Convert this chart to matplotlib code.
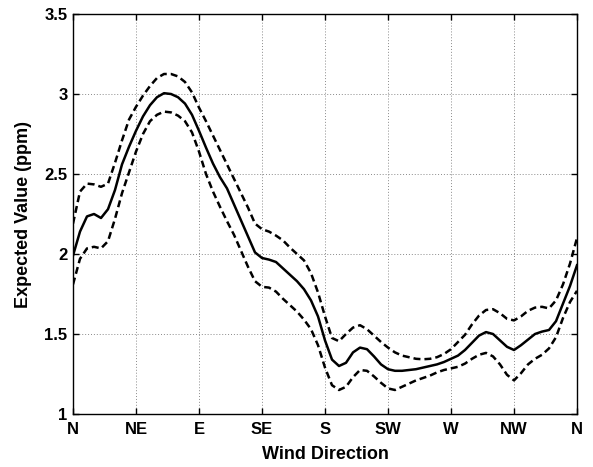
import matplotlib
matplotlib.use("Agg")
import matplotlib.pyplot as plt
import numpy as np

plt.rcParams['font.family'] = ['Liberation Sans', 'DejaVu Sans']

# Wind direction in degrees (0 = N, clockwise)
angles = list(range(0, 365, 5))

expected = [1.99, 2.14, 2.235, 2.25, 2.225, 2.28, 2.40, 2.56, 2.67, 2.77,
            2.86, 2.93, 2.98, 3.005, 3.0, 2.98, 2.94, 2.87, 2.77, 2.665,
            2.565, 2.48, 2.41, 2.31, 2.21, 2.11, 2.01, 1.975, 1.965, 1.95,
            1.91, 1.87, 1.83, 1.78, 1.71, 1.61, 1.46, 1.34, 1.30, 1.32,
            1.385, 1.415, 1.405, 1.36, 1.31, 1.28, 1.27, 1.27, 1.275, 1.28,
            1.29, 1.30, 1.31, 1.325, 1.345, 1.365, 1.40, 1.445, 1.49, 1.512,
            1.50, 1.46, 1.42, 1.40, 1.43, 1.465, 1.50, 1.515, 1.525, 1.58,
            1.69, 1.80, 1.93]

upper = [2.19, 2.39, 2.44, 2.435, 2.42, 2.44, 2.57, 2.71, 2.84, 2.92,
         2.99, 3.05, 3.10, 3.125, 3.125, 3.11, 3.075, 3.01, 2.915, 2.83,
         2.74, 2.65, 2.56, 2.47, 2.38, 2.29, 2.19, 2.155, 2.14, 2.115,
         2.085, 2.04, 2.00, 1.96, 1.88, 1.76, 1.61, 1.475, 1.455, 1.50,
         1.54, 1.555, 1.53, 1.49, 1.45, 1.415, 1.385, 1.365, 1.355, 1.345,
         1.342, 1.345, 1.355, 1.375, 1.405, 1.45, 1.495, 1.56, 1.615, 1.65,
         1.655, 1.63, 1.595, 1.585, 1.61, 1.645, 1.665, 1.67, 1.66, 1.71,
         1.81, 1.94, 2.10]

lower = [1.81, 1.97, 2.035, 2.045, 2.035, 2.08, 2.22, 2.38, 2.51, 2.64,
         2.75, 2.83, 2.87, 2.89, 2.885, 2.865, 2.83, 2.76, 2.64, 2.50,
         2.39, 2.295, 2.205, 2.12, 2.02, 1.92, 1.83, 1.795, 1.79, 1.765,
         1.72, 1.68, 1.64, 1.59, 1.53, 1.43, 1.29, 1.18, 1.15, 1.17,
         1.23, 1.275, 1.27, 1.235, 1.195, 1.16, 1.15, 1.17, 1.19, 1.21,
         1.225, 1.24, 1.26, 1.275, 1.285, 1.295, 1.315, 1.345, 1.37, 1.382,
         1.36, 1.31, 1.245, 1.21, 1.255, 1.31, 1.345, 1.37, 1.41, 1.48,
         1.60, 1.70, 1.77]

xtick_pos = [0, 45, 90, 135, 180, 225, 270, 315, 360]
xtick_labels = ['N', 'NE', 'E', 'SE', 'S', 'SW', 'W', 'NW', 'N']
ytick_pos = [1, 1.5, 2, 2.5, 3, 3.5]
ytick_labels = ['1', '1.5', '2', '2.5', '3', '3.5']

fig = plt.figure(figsize=(5.93, 4.67), dpi=100)
ax = fig.add_axes([73/593, 1 - 414/467, 504/593, 400/467])

ax.plot(angles, expected, color='black', lw=1.8, solid_joinstyle='round')
ax.plot(angles, upper, color='black', lw=1.8, ls=(0, (2.8, 1.6)))
ax.plot(angles, lower, color='black', lw=1.8, ls=(0, (2.8, 1.6)))

ax.set_xlim(0, 360)
ax.set_ylim(1, 3.5)
ax.set_xticks(xtick_pos)
ax.set_xticklabels(xtick_labels)
ax.set_yticks(ytick_pos)
ax.set_yticklabels(ytick_labels)

ax.grid(True, color='#8a8a8a', ls=(0, (1, 2)), lw=0.7)
ax.tick_params(direction='in', length=4, width=1, top=True, right=True,
               labelsize=12, pad=4)
for lab in ax.get_xticklabels() + ax.get_yticklabels():
    lab.set_fontweight('bold')
ax.tick_params(axis='x', pad=6)
for s in ax.spines.values():
    s.set_linewidth(1.0)
    s.set_color('black')

ax.set_xlabel('Wind Direction', fontsize=13, fontweight='bold', labelpad=6)
ax.set_ylabel('Expected Value (ppm)', fontsize=13, fontweight='bold', labelpad=9)

fig.savefig('out.png', dpi=100)
